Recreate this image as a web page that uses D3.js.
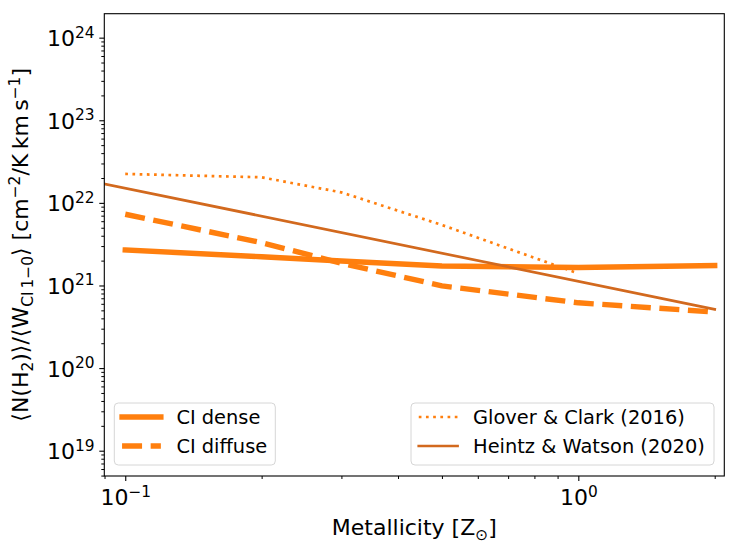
<!DOCTYPE html>
<html>
<head>
<meta charset="utf-8">
<script src="https://cdn.jsdelivr.net/npm/d3@7"></script>
<style>
  body { margin: 0; background: #ffffff; overflow: hidden; }
  svg { display: block; font-family: "DejaVu Sans", sans-serif; }
</style>
</head>
<body>
<div id="chart"></div>
<script>
// values
const metallicity = [0.1, 0.2, 0.3, 0.5, 1.0, 2.0];
const ciDense = [2.69e21, 2.23e21, 1.98e21, 1.72e21, 1.65e21, 1.74e21];
const ciDiffuse = [7.28e21, 3.3e21, 1.86e21, 9.9e20, 6.17e20, 4.77e20];
const gloverZ = [0.1, 0.2, 0.3, 0.5, 1.0];
const gloverClark = [2.24e22, 2.04e22, 1.34e22, 5.4e21, 1.4e21];
const heintzZ = [0.08, 2.0];
const heintzWatson = [1.94e22, 5.15e20];
const xTickExps = [-1, 0];
const yTickExps = [19, 20, 21, 22, 23, 24];
const legendLeft = ["CI dense", "CI diffuse"];
const legendRight = ["Glover & Clark (2016)", "Heintz & Watson (2020)"];

const width = 737;
const height = 552;
const margin = { top: 13.7, right: 12.7, bottom: 76, left: 104.3 };
const innerWidth = width - margin.left - margin.right;
const innerHeight = height - margin.top - margin.bottom;
const orange = "#ff7f0e";
const brown = "#d2691e";
const tickFont = 22;
const legendFont = 19.4;

const svg = d3.select("#chart")
  .append("svg")
  .attr("width", width)
  .attr("height", height);

const x = d3.scaleLog().domain([0.0899, 2.1]).range([0, innerWidth]);
const y = d3.scaleLog().domain([4.94e18, 1.95e24]).range([innerHeight, 0]);

svg.append("defs").append("clipPath")
  .attr("id", "plot-clip")
  .append("rect")
  .attr("width", innerWidth)
  .attr("height", innerHeight);

const chart = svg.append("g")
  .attr("transform", `translate(${margin.left},${margin.top})`);

// minor ticks
const xMinor = [];
[0.01, 0.1, 1].forEach(base => {
  for (let k = 2; k <= 9; k++) xMinor.push(base * k);
});
const yMinor = [];
for (let e = 18; e <= 24; e++) {
  for (let k = 2; k <= 9; k++) yMinor.push(k * Math.pow(10, e));
}
const inX = v => v >= x.domain()[0] && v <= x.domain()[1];
const inY = v => v >= y.domain()[0] && v <= y.domain()[1];

chart.append("g")
  .attr("transform", `translate(0,${innerHeight})`)
  .call(d3.axisBottom(x).tickValues(xMinor.filter(inX)).tickSize(3).tickFormat(""))
  .call(g => g.select(".domain").remove())
  .call(g => g.selectAll("text").remove());

chart.append("g")
  .call(d3.axisLeft(y).tickValues(yMinor.filter(inY)).tickSize(3).tickFormat(""))
  .call(g => g.select(".domain").remove())
  .call(g => g.selectAll("text").remove());

// major ticks with superscript labels
const supLabel = (sel, exp) => {
  sel.text(null);
  sel.append("tspan").text("10");
  sel.append("tspan")
    .attr("dy", -8.5)
    .attr("font-size", tickFont * 0.7)
    .text(String(exp).replace("-", "\u2212"));
};

chart.append("g")
  .attr("transform", `translate(0,${innerHeight})`)
  .call(d3.axisBottom(x).tickValues(xTickExps.map(e => Math.pow(10, e))).tickSize(5).tickPadding(4.7))
  .call(g => g.select(".domain").remove())
  .call(g => g.selectAll("line").attr("stroke-width", 1.1))
  .selectAll("text")
  .attr("font-size", tickFont)
  .attr("font-family", "DejaVu Sans")
  .attr("fill", "#000")
  .attr("dy", null)
  .attr("y", 29)
  .each(function (d, i) { supLabel(d3.select(this), xTickExps[i]); });

chart.append("g")
  .call(d3.axisLeft(y).tickValues(yTickExps.map(e => Math.pow(10, e))).tickSize(5).tickPadding(4.7))
  .call(g => g.select(".domain").remove())
  .call(g => g.selectAll("line").attr("stroke-width", 1.1))
  .selectAll("text")
  .attr("font-size", tickFont)
  .attr("font-family", "DejaVu Sans")
  .attr("fill", "#000")
  .attr("dy", 8)
  .each(function (d, i) { supLabel(d3.select(this), yTickExps[i]); });

// data lines
const line = d3.line()
  .x(d => x(d[0]))
  .y(d => y(d[1]));

const plot = chart.append("g").attr("clip-path", "url(#plot-clip)");

const series = [
  { z: metallicity, v: ciDense, color: orange, w: 5.4, dash: null, cap: "square" },
  { z: metallicity, v: ciDiffuse, color: orange, w: 5.4, dash: "20,8.6", cap: "butt" },
  { z: gloverZ, v: gloverClark, color: orange, w: 2.7, dash: "2.7,4.5", cap: "butt" },
  { z: heintzZ, v: heintzWatson, color: brown, w: 2.7, dash: null, cap: "square" }
];

plot.selectAll("path.series")
  .data(series)
  .join("path")
  .attr("class", "series")
  .attr("d", s => line(d3.zip(s.z, s.v)))
  .attr("fill", "none")
  .attr("stroke", s => s.color)
  .attr("stroke-width", s => s.w)
  .attr("stroke-dasharray", s => s.dash)
  .attr("stroke-linecap", s => s.cap)
  .attr("stroke-linejoin", "round");

// frame
chart.append("rect")
  .attr("width", innerWidth)
  .attr("height", innerHeight)
  .attr("fill", "none")
  .attr("stroke", "#000")
  .attr("stroke-width", 1.1);

// legends
function drawLegend(x0, w, labels, styles) {
  const g = chart.append("g")
    .attr("transform", `translate(${x0 - margin.left},${403 - margin.top})`);
  g.append("rect")
    .attr("width", w)
    .attr("height", 62)
    .attr("rx", 4)
    .attr("fill", "#ffffff")
    .attr("fill-opacity", 0.8)
    .attr("stroke", "#d6d6d6")
    .attr("stroke-width", 1);
  labels.forEach((label, i) => {
    const cy = 14 + i * 29;
    const s = styles[i];
    const hx0 = 0.4 * legendFont;
    g.append("line")
      .attr("x1", hx0)
      .attr("x2", hx0 + 2 * legendFont)
      .attr("y1", cy)
      .attr("y2", cy)
      .attr("stroke", s.color)
      .attr("stroke-width", s.w)
      .attr("stroke-dasharray", s.dash)
      .attr("stroke-linecap", s.cap);
    g.append("text")
      .attr("x", hx0 + 2.8 * legendFont)
      .attr("y", cy + 7)
      .attr("font-size", legendFont)
      .attr("fill", "#000")
      .text(label);
  });
}

drawLegend(114.3, 161, legendLeft, series.slice(0, 2));
drawLegend(411, 303, legendRight, series.slice(2, 4));

// axis labels
const xLabel = svg.append("text")
  .attr("x", margin.left + innerWidth / 2)
  .attr("y", 535)
  .attr("text-anchor", "middle")
  .attr("font-size", tickFont)
  .attr("fill", "#000");
xLabel.append("tspan").text("Metallicity [Z");
xLabel.append("tspan").attr("dy", 4.5).attr("font-size", tickFont * 0.7).text("\u2299");
xLabel.append("tspan").attr("dy", -4.5).text("]");

const yPieces = [
  { t: "\u27E8N(H", s: 0 },
  { t: "2", s: 1 },
  { t: ")\u27E9/\u27E8W", s: 0 },
  { t: "CI\u20091\u22120", s: 1 },
  { t: "\u27E9 [cm", s: 0 },
  { t: "\u22122", s: -1 },
  { t: "/K\u2009km\u2009s", s: 0 },
  { t: "\u22121", s: -1 },
  { t: "]", s: 0 }
];
const yLabel = svg.append("text")
  .attr("transform", `translate(28,${margin.top + innerHeight / 2}) rotate(-90)`)
  .attr("text-anchor", "middle")
  .attr("font-size", tickFont)
  .attr("fill", "#000");
let shift = 0;
yPieces.forEach(p => {
  const target = p.s === 1 ? 4.5 : p.s === -1 ? -8.5 : 0;
  yLabel.append("tspan")
    .attr("dy", target - shift)
    .attr("font-size", p.s ? tickFont * 0.7 : tickFont)
    .text(p.t);
  shift = target;
});
</script>
</body>
</html>
